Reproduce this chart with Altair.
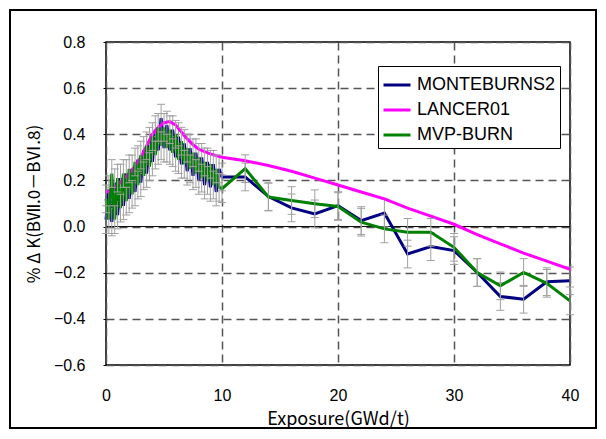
import altair as alt
import pandas as pd

# ---------------- data ----------------
X_FINE = [0, 0.25, 0.5, 0.75, 1.0, 1.25, 1.5, 1.75, 2.0, 2.25, 2.5, 2.75, 3.0, 3.25,
          3.5, 3.75, 4.0, 4.25, 4.5, 4.75, 5.0, 5.25, 5.5, 5.75, 6.0, 6.25, 6.5, 6.75,
          7.0, 7.25, 7.5, 7.75, 8.0, 8.25, 8.5, 8.75, 9.0, 9.25, 9.5, 9.75, 10.0]
X_COARSE = [12, 14, 16, 18, 20, 22, 24, 26, 28, 30, 32, 34, 36, 38, 40]

MB_FINE = [0.03, 0.16, 0.02, 0.19, 0.05, 0.21, 0.09, 0.23, 0.12, 0.25, 0.15, 0.29, 0.19, 0.33,
           0.23, 0.37, 0.28, 0.42, 0.33, 0.47, 0.34, 0.44, 0.33, 0.42, 0.30, 0.39, 0.27, 0.36,
           0.24, 0.34, 0.22, 0.32, 0.20, 0.30, 0.18, 0.28, 0.17, 0.27, 0.15, 0.25, 0.215]
MB_COARSE = [0.215, 0.13, 0.081, 0.055, 0.091, 0.026, 0.059, -0.119, -0.087, -0.104,
             -0.199, -0.303, -0.315, -0.239, -0.235]

MVP_FINE = [0.12, 0.03, 0.23, 0.03, 0.21, 0.08, 0.23, 0.11, 0.25, 0.14, 0.28, 0.18, 0.31, 0.22,
            0.35, 0.26, 0.39, 0.31, 0.43, 0.35, 0.43, 0.34, 0.42, 0.32, 0.40, 0.29, 0.37, 0.27,
            0.34, 0.25, 0.32, 0.23, 0.30, 0.21, 0.28, 0.20, 0.27, 0.18, 0.25, 0.17, 0.164]
MVP_COARSE = [0.251, 0.128, 0.113, 0.099, 0.087, 0.019, -0.010, -0.025, -0.025, -0.09,
              -0.199, -0.257, -0.199, -0.246, -0.322]

LAN_X = [0, 0.5, 1, 1.5, 2, 2.5, 3, 3.5, 4, 4.5, 5, 5.5, 6, 6.5, 7, 7.5, 8, 8.5, 9, 10,
         12, 14, 16, 18, 20, 22, 24, 26, 28, 30, 32, 34, 36, 38, 40]
LAN_Y = [0.148, 0.16, 0.18, 0.205, 0.23, 0.26, 0.30, 0.35, 0.40, 0.43, 0.45, 0.455, 0.44,
         0.41, 0.38, 0.355, 0.335, 0.325, 0.315, 0.30, 0.285, 0.265, 0.24, 0.21, 0.18, 0.15,
         0.12, 0.08, 0.045, 0.01, -0.035, -0.075, -0.115, -0.15, -0.185]

ERR = 0.06  # half-width of the statistical error bars

SERIES = ["MONTEBURNS2", "LANCER01", "MVP-BURN"]
COLORS = ["#000080", "#FF00FF", "#008000"]

X_TITLE = "Exposure(GWd/t)"
Y_TITLE = "% Δ K(BⅦ.0－BⅥ.8)"

# ---------------- tables ----------------
mb_x = X_FINE + X_COARSE
mb_y = MB_FINE + MB_COARSE
mvp_y = MVP_FINE + MVP_COARSE

df_mb = pd.DataFrame({"x": mb_x, "y": mb_y, "series": SERIES[0]})
df_lan = pd.DataFrame({"x": LAN_X, "y": LAN_Y, "series": SERIES[1]})
df_mvp = pd.DataFrame({"x": mb_x, "y": mvp_y, "series": SERIES[2]})

def err_df(d):
    e = d.copy()
    e["lo"] = e["y"] - ERR
    e["hi"] = e["y"] + ERR
    return e

err_mb = err_df(df_mb)
err_mvp = err_df(df_mvp)

LABEL_FONT = "Liberation Sans"
TITLE_FONT = "Noto Sans CJK JP"

x_enc = alt.X("x:Q",
              scale=alt.Scale(domain=[0, 40], nice=False, zero=False),
              axis=alt.Axis(values=[0, 10, 20, 30, 40], title=X_TITLE, ticks=False,
                            labelPadding=22, titlePadding=7, domain=False,
                            grid=True, gridDash=[8, 5], gridColor="#555555", gridWidth=1.5,
                            labelFont=LABEL_FONT, labelFontSize=16, labelColor="black",
                            titleFont=TITLE_FONT, titleFontSize=18, titleFontWeight="normal",
                            titleColor="black", labelFlush=False))
y_enc = alt.Y("y:Q",
              scale=alt.Scale(domain=[-0.6, 0.8], nice=False, zero=False),
              axis=alt.Axis(values=[-0.6, -0.4, -0.2, 0.0, 0.2, 0.4, 0.6, 0.8], format=".1f",
                            title=Y_TITLE, ticks=True, tickSize=3, tickColor="black",
                            labelPadding=18, titlePadding=10, domain=False,
                            grid=True, gridDash=[8, 5], gridColor="#555555", gridWidth=1.5,
                            labelFont=LABEL_FONT, labelFontSize=16, labelColor="black",
                            titleFont=TITLE_FONT, titleFontSize=17, titleFontWeight="normal",
                            titleColor="black", labelFlush=False))

color_enc = alt.Color("series:N",
                      scale=alt.Scale(domain=SERIES, range=COLORS),
                      legend=alt.Legend(title=None, orient="none", legendX=272, legendY=24,
                                        symbolType="stroke", symbolSize=729,
                                        symbolStrokeWidth=3, labelFont=LABEL_FONT,
                                        labelFontSize=18, labelColor="black",
                                        labelOffset=5, rowPadding=1, padding=4,
                                        strokeColor="black", fillColor="white",
                                        labelLimit=300))

def line_layer(d):
    return alt.Chart(d).mark_line(strokeWidth=3).encode(
        x=x_enc, y=y_enc, color=color_enc, order="x:Q")

def err_layers(e):
    rule = alt.Chart(e).mark_rule(color="#a0a0a0", strokeWidth=1).encode(
        x="x:Q", y="lo:Q", y2="hi:Q")
    cap_lo = alt.Chart(e).mark_rule(color="#a0a0a0", strokeWidth=1,
                                    xOffset=-4, x2Offset=4).encode(
        x="x:Q", x2="x", y="lo:Q")
    cap_hi = alt.Chart(e).mark_rule(color="#a0a0a0", strokeWidth=1,
                                    xOffset=-4, x2Offset=4).encode(
        x="x:Q", x2="x", y="hi:Q")
    return [rule, cap_lo, cap_hi]

zero = alt.Chart(pd.DataFrame({"y": [0.0]})).mark_rule(color="black", strokeWidth=1).encode(
    y="y:Q")

border = alt.Chart(pd.DataFrame({"a": [0]})).mark_rect(
    filled=False, stroke="black", strokeWidth=2, clip=False).encode(
    x=alt.value(-96), x2=alt.value(490), y=alt.value(-32), y2=alt.value(386))

layers = ([zero, line_layer(df_mb)] + err_layers(err_mb) +
          [line_layer(df_lan), line_layer(df_mvp)] + err_layers(err_mvp) + [border])

chart = alt.layer(*layers).properties(
    width=464, height=323,
    padding={"left": 98, "top": 34, "right": 28, "bottom": 66},
    autosize=alt.AutoSizeParams(type="none"),
    background="white",
).configure_view(stroke="black", strokeWidth=1.5)

chart.save("out.html", embed_options={"renderer": "svg", "actions": False})
